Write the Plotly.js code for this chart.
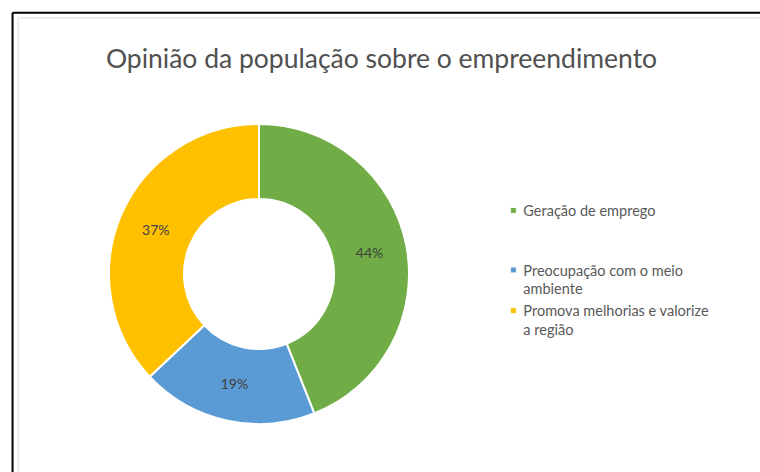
<!DOCTYPE html>
<html>
<head>
<meta charset="utf-8">
<script src="https://cdn.plot.ly/plotly-3.0.1.min.js"></script>
<style>
  html, body { margin: 0; padding: 0; background: #ffffff; }
  #chart { width: 760px; height: 472px; }
</style>
</head>
<body>
<div id="chart"></div>
<script>
// ---- data ----
const chartTitle = "Opinião da população sobre o empreendimento";
const categories = [
  "Geração de emprego",
  "Preocupação com o meio ambiente",
  "Promova melhorias e valorize a região"
];
// legend labels (line breaks as in the reference legend)
const legendLabels = [
  "Geração de emprego<br> <br> ",
  "Preocupação com o meio<br>ambiente",
  "Promova melhorias e valorize<br>a região"
];
const percentValues = [44, 19, 37];
const sliceColors = ["#70AD47", "#5B9BD5", "#FFC000"];

const trace = {
  type: "pie",
  labels: legendLabels,
  values: percentValues,
  customdata: categories,
  sort: false,
  direction: "clockwise",
  rotation: 0,
  hole: 0.5,
  marker: { colors: sliceColors, line: { color: "#ffffff", width: 2 } },
  textinfo: "percent",
  texttemplate: "%{value}%",
  textposition: "inside",
  insidetextorientation: "horizontal",
  textfont: { family: "Lato, 'Open Sans', sans-serif", size: 14, color: "#404040" },
  hoverinfo: "none",
  domain: { x: [0.1434, 0.5382], y: [0.1017, 0.7373] }
};

const layout = {
  width: 760,
  height: 472,
  margin: { l: 0, r: 0, t: 0, b: 0 },
  paper_bgcolor: "#ffffff",
  plot_bgcolor: "#ffffff",
  title: {
    text: chartTitle,
    font: { family: "Lato, 'Open Sans', sans-serif", size: 26.5, color: "#505050" },
    x: 0.502, xanchor: "center",
    y: 0.875, yanchor: "middle"
  },
  showlegend: true,
  legend: {
    x: 0.636, xanchor: "left",
    y: 0.588, yanchor: "top",
    valign: "top",
    font: { family: "Lato, 'Open Sans', sans-serif", size: 14.5, color: "#595959" },
    bgcolor: "rgba(0,0,0,0)",
    itemclick: false, itemdoubleclick: false
  },
  shapes: [
    { type: "line", xref: "paper", yref: "paper", x0: 0.0165, x1: 0.0165, y0: 0, y1: 0.973,
      line: { color: "#000000", width: 2 } },
    { type: "line", xref: "paper", yref: "paper", x0: 0.0165, x1: 1, y0: 0.973, y1: 0.973,
      line: { color: "#000000", width: 2 } },
    { type: "line", xref: "paper", yref: "paper", x0: 0.024, x1: 0.024, y0: 0, y1: 0.962,
      line: { color: "#ececec", width: 2 } },
    { type: "line", xref: "paper", yref: "paper", x0: 0.024, x1: 1, y0: 0.962, y1: 0.962,
      line: { color: "#ececec", width: 2 } }
  ]
};

Plotly.newPlot("chart", [trace], layout, { displayModeBar: false, staticPlot: true }).then(function (gd) {
  // smaller legend swatches sitting close to the text, like the reference
  gd.querySelectorAll(".legend .legendpoints path").forEach(function (p) {
    const t = p.getAttribute("transform") || "";
    p.setAttribute("transform", t + " translate(10,0) scale(0.5)");
  });
});
</script>
</body>
</html>
